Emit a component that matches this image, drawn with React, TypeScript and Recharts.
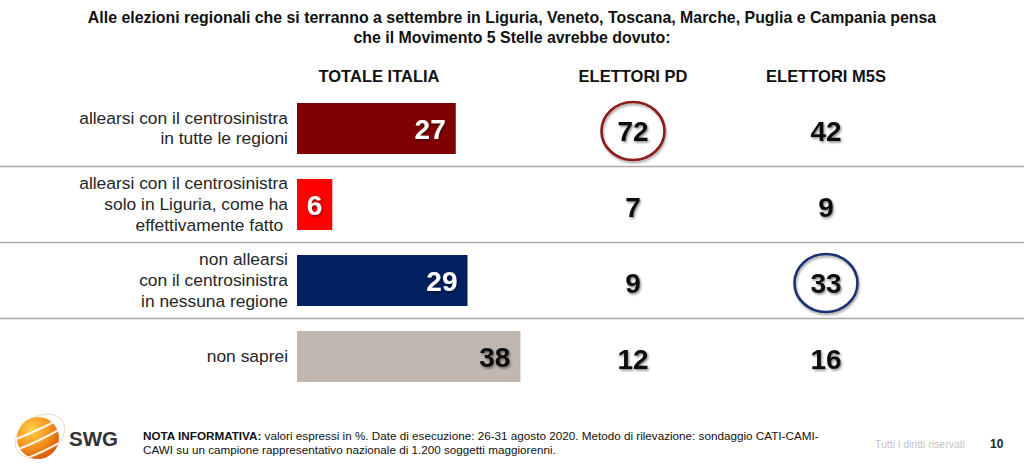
import React from "react";
import { BarChart, Bar, XAxis, YAxis, Cell, LabelList } from "recharts";

// categories (row labels, "\n" = line break as in the slide)
const categories = [
  "allearsi con il centrosinistra\nin tutte le regioni",
  "allearsi con il centrosinistra\nsolo in Liguria, come ha\neffettivamente fatto\u00a0",
  "non allearsi\ncon il centrosinistra\nin nessuna regione",
  "non saprei",
];
const totaleItalia = [27, 6, 29, 38];
const elettoriPD = [72, 7, 9, 12];
const elettoriM5S = [42, 9, 33, 16];
// which values are circled on the slide
const circledPD = [true, false, false, false];
const circledM5S = [false, false, true, false];
const columnHeaders = ["TOTALE ITALIA", "ELETTORI PD", "ELETTORI M5S"];

const titleLines = [
  "Alle elezioni regionali che si terranno a settembre in Liguria, Veneto, Toscana, Marche, Puglia e Campania pensa",
  "che il Movimento 5 Stelle avrebbe dovuto:",
];

const barColors = ["#7f0000", "#fe0000", "#002060", "#c0b7b0"];
const barTextColors = ["#ffffff", "#ffffff", "#ffffff", "#111111"];

const FONT = "Arial, 'Liberation Sans', Helvetica, sans-serif";
const PD_X = 633;
const M5S_X = 826;
const TOP = 90;
const BOTTOM = 73;
const ROW_H = (467 - TOP - BOTTOM) / categories.length;

const data = categories.map((cat, i) => ({
  cat,
  totale: totaleItalia[i],
  pd: elettoriPD[i],
  m5s: elettoriM5S[i],
}));

const CategoryTick = (props: any) => {
  const { x, y, payload } = props;
  const lines = String(payload.value).split("\n");
  const lh = 20.7;
  const start = -((lines.length - 1) * lh) / 2;
  return (
    <text
      x={x - 1}
      y={y}
      textAnchor="end"
      fontFamily={FONT}
      fontSize={17.4}
      fill="#262626"
    >
      {lines.map((l, i) => (
        <tspan key={i} x={x - 1} dy={i === 0 ? start + 6 : lh}>
          {l}
        </tspan>
      ))}
    </text>
  );
};

const RowBar = (props: any) => {
  const { x, y, width, height, fill, index } = props;
  const sepY = y + height / 2 + ROW_H / 2;
  return (
    <g>
      <rect x={x} y={y} width={width} height={height} fill={fill} />
      {index < categories.length - 1 && (
        <line
          x1={0}
          x2={1024}
          y1={sepY}
          y2={sepY}
          stroke="#a9a9a9"
          strokeWidth={1.3}
        />
      )}
    </g>
  );
};

const BarValue = (props: any) => {
  const { x, y, width, height, value, index } = props;
  return (
    <text
      x={x + width - 10}
      y={y + height / 2 + 10}
      textAnchor="end"
      fontFamily={FONT}
      fontWeight="bold"
      fontSize={28}
      fill={barTextColors[index]}
      filter="url(#numShadow)"
    >
      {value}
    </text>
  );
};

const makeColumnValue = (colX: number, circled: boolean[], ring: string) =>
  (props: any) => {
    const { y, height, value, index } = props;
    const cy = y + height / 2 + 2.5;
    return (
      <g>
        {circled[index] && (
          <ellipse
            cx={colX}
            cy={cy}
            rx={31.5}
            ry={29}
            fill="none"
            stroke={ring}
            strokeWidth={2.6}
            filter="url(#ringShadow)"
          />
        )}
        <text
          x={colX}
          y={cy + 10}
          textAnchor="middle"
          fontFamily={FONT}
          fontWeight="bold"
          fontSize={28}
          fill="#111111"
          filter="url(#numShadow)"
        >
          {value}
        </text>
      </g>
    );
  };

const PDValue = makeColumnValue(PD_X, circledPD, "#8b1a1a");
const M5SValue = makeColumnValue(M5S_X, circledM5S, "#1b3270");

const Overlay = () => (
  <svg
    width={1024}
    height={467}
    style={{ position: "absolute", left: 0, top: 0, pointerEvents: "none" }}
  >
    <defs>
      <filter id="numShadow" x="-20%" y="-20%" width="150%" height="150%">
        <feDropShadow dx="1.2" dy="1.6" stdDeviation="1" floodColor="#000" floodOpacity="0.45" />
      </filter>
      <filter id="ringShadow" x="-20%" y="-20%" width="150%" height="150%">
        <feDropShadow dx="1" dy="2" stdDeviation="1.2" floodColor="#000" floodOpacity="0.35" />
      </filter>
      <radialGradient id="sphere" cx="35%" cy="30%" r="75%">
        <stop offset="0%" stopColor="#ffd24a" />
        <stop offset="55%" stopColor="#f7941d" />
        <stop offset="100%" stopColor="#d9560b" />
      </radialGradient>
      <clipPath id="sphereClip">
        <circle cx={38} cy={438} r={21} />
      </clipPath>
    </defs>
    {titleLines.map((t, i) => (
      <text
        key={i}
        x={512}
        y={23 + i * 20}
        textAnchor="middle"
        fontFamily={FONT}
        fontWeight="bold"
        fontSize={15.9}
        fill="#111"
      >
        {t}
      </text>
    ))}
    {columnHeaders.map((h, i) => (
      <text
        key={h}
        x={[379, PD_X, M5S_X][i]}
        y={82}
        textAnchor="middle"
        fontFamily={FONT}
        fontWeight="bold"
        fontSize={16.5}
        fill="#111"
      >
        {h}
      </text>
    ))}
    {/* SWG logo */}
    <ellipse cx={40} cy={436} rx={27} ry={19} fill="none" stroke="#f3d2b8" strokeWidth={0.8} transform="rotate(-35 40 436)" />
    <circle cx={38} cy={438} r={21} fill="url(#sphere)" />
    <g clipPath="url(#sphereClip)" fill="none" stroke="#fff" strokeWidth={2.2} opacity={0.9}>
      <path d="M14 440 Q 34 432 58 420" />
      <path d="M16 450 Q 38 442 62 428" />
      <path d="M22 460 Q 44 452 64 440" />
    </g>
    <text x={69} y={446} fontFamily={FONT} fontWeight="bold" fontSize={20.5} fill="#333">
      SWG
    </text>
    <text x={143} y={440} fontFamily={FONT} fontSize={11.7} fill="#111">
      <tspan fontWeight="bold">NOTA INFORMATIVA:</tspan>
      <tspan> valori espressi in %. Date di esecuzione: 26-31 agosto 2020. Metodo di rilevazione: sondaggio CATI-CAMI-</tspan>
    </text>
    <text x={143} y={454} fontFamily={FONT} fontSize={11.7} fill="#111">
      CAWI su un campione rappresentativo nazionale di 1.200 soggetti maggiorenni.
    </text>
    <text x={875} y={448} fontFamily={FONT} fontSize={10.5} fill="#c4c4c4">
      Tutti i diritti riservati
    </text>
    <text x={990} y={448} fontFamily={FONT} fontWeight="bold" fontSize={12} fill="#222">
      10
    </text>
  </svg>
);

export default function App() {
  return (
    <div
      style={{
        position: "absolute",
        left: 0,
        top: 0,
        width: 1024,
        height: 467,
        background: "#fff",
        fontFamily: FONT,
      }}
    >
      <BarChart
        layout="vertical"
        width={1024}
        height={467}
        data={data}
        margin={{ top: TOP, right: 139, bottom: BOTTOM, left: 0 }}
        barSize={51}
      >
        <XAxis type="number" domain={[0, 100]} hide />
        <YAxis
          type="category"
          dataKey="cat"
          width={297}
          axisLine={false}
          tickLine={false}
          interval={0}
          tick={<CategoryTick />}
        />
        <Bar dataKey="totale" isAnimationActive={false} shape={<RowBar />}>
          {data.map((d, i) => (
            <Cell key={d.cat} fill={barColors[i]} />
          ))}
          <LabelList dataKey="totale" content={<BarValue />} />
          <LabelList dataKey="pd" content={<PDValue />} />
          <LabelList dataKey="m5s" content={<M5SValue />} />
        </Bar>
      </BarChart>
      <Overlay />
    </div>
  );
}
